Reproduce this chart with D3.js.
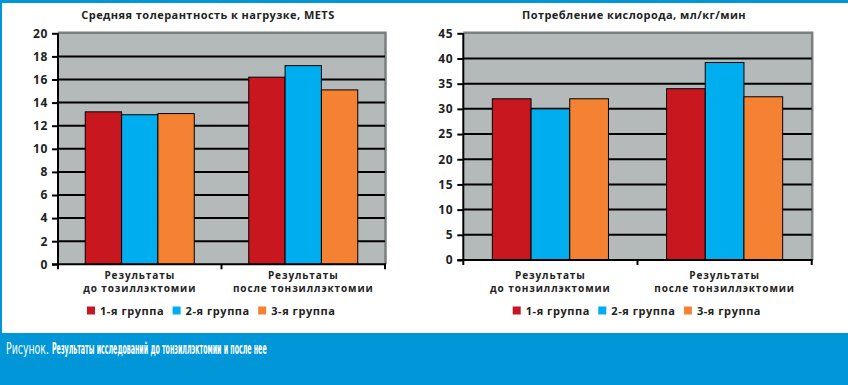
<!DOCTYPE html>
<html>
<head>
<meta charset="utf-8">
<script src="https://cdn.jsdelivr.net/npm/d3@7"></script>
<style>
  html, body { margin: 0; padding: 0; background: #fff; }
  svg { display: block; }
  .lbl { font-family: 'Open Sans', sans-serif; font-weight: 700; fill: #222; }
</style>
</head>
<body>
<div id="chart"></div>
<script>
;(function() {
  // data
  var groups = ['1-я группа', '2-я группа', '3-я группа']
  var metsCategories = [['Результаты', 'до тозиллэктомии'], ['Результаты', 'после тонзиллэктомии']]
  var metsValues = [[13.2, 12.95, 13.05], [16.2, 17.2, 15.1]]
  var metsTicks = [0, 2, 4, 6, 8, 10, 12, 14, 16, 18, 20]
  var oxyCategories = [['Результаты', 'до тонзиллэктомии'], ['Результаты', 'после тонзиллэктомии']]
  var oxyValues = [[32.0, 30.0, 32.0], [34.0, 39.2, 32.4]]
  var oxyTicks = [0, 5, 10, 15, 20, 25, 30, 35, 40, 45]

  var colors = ['#c9171f', '#00adee', '#f58233']
  var W = 848, H = 385

  var svg = d3
    .select('#chart')
    .append('svg')
    .attr('width', W)
    .attr('height', H)

  // frame
  svg.append('rect').attr('width', W).attr('height', H).attr('fill', '#0096d8')
  svg.append('rect').attr('x', 2).attr('y', 3).attr('width', W - 2).attr('height', 330).attr('fill', '#fff')

  function drawChart(opt) {
    var g = svg.append('g')
    var y = d3.scaleLinear().domain([0, opt.max]).range([opt.bottom, opt.top])
    var x0 = d3.scaleBand().domain(d3.range(opt.categories.length)).range([opt.left, opt.right])
    var bw = x0.bandwidth()
    var gap = bw * 0.75 / 4.5
    var x1 = d3.scaleBand().domain(d3.range(groups.length)).range([gap, bw - gap])

    // plot background
    g.append('rect')
      .attr('x', opt.left)
      .attr('y', opt.top)
      .attr('width', opt.right - opt.left)
      .attr('height', opt.bottom - opt.top)
      .attr('fill', '#b4b9b9')

    // top + right border
    g.append('path')
      .attr('d', 'M' + opt.left + ',' + (opt.top - 0.5) + 'H' + (opt.right + 0.5) + 'V' + opt.bottom)
      .attr('fill', 'none')
      .attr('stroke', '#7a7f7f')
      .attr('stroke-width', 2.5)

    // gridlines
    g.selectAll('.grid')
      .data(opt.ticks.filter(d => d > 0 && d < opt.max))
      .enter()
      .append('line')
      .attr('x1', opt.left)
      .attr('x2', opt.right)
      .attr('y1', d => y(d))
      .attr('y2', d => y(d))
      .attr('stroke', '#000')
      .attr('stroke-width', 2)

    // bars
    opt.values.forEach(function(vals, ci) {
      g.selectAll('.bar' + ci)
        .data(vals)
        .enter()
        .append('rect')
        .attr('x', (d, i) => x0(ci) + x1(i))
        .attr('y', d => y(d))
        .attr('width', x1.bandwidth())
        .attr('height', d => opt.bottom - y(d))
        .attr('fill', (d, i) => colors[i])
        .attr('stroke', '#000')
        .attr('stroke-width', 1)
    })

    // left axis
    var yAxis = d3.axisLeft(y).tickValues(opt.ticks).tickSize(6).tickPadding(4)
    var ya = g.append('g')
      .attr('transform', 'translate(' + opt.left + ',0)')
      .call(yAxis)
    ya.select('.domain').attr('stroke', '#000').attr('stroke-width', 2).attr('d', 'M0,' + opt.top + 'V' + opt.bottom)
    ya.selectAll('.tick line').attr('stroke', '#000').attr('stroke-width', 2)
    ya.selectAll('.tick text')
      .attr('class', 'lbl')
      .style('font-size', '12px')
      .style('letter-spacing', '0.6px')
      .attr('fill', '#222')

    // bottom axis
    g.append('line')
      .attr('x1', opt.left - 6)
      .attr('x2', opt.right + 1)
      .attr('y1', opt.bottom)
      .attr('y2', opt.bottom)
      .attr('stroke', '#000')
      .attr('stroke-width', 2)
    var edges = d3.range(opt.categories.length + 1).map(i => i < opt.categories.length ? x0(i) : opt.right)
    g.selectAll('.xtick')
      .data(edges)
      .enter()
      .append('line')
      .attr('x1', d => d)
      .attr('x2', d => d)
      .attr('y1', opt.bottom)
      .attr('y2', opt.bottom + 5)
      .attr('stroke', '#000')
      .attr('stroke-width', 2)

    // category labels, one text per line
    opt.categories.forEach(function(lines, ci) {
      lines.forEach(function(line, li) {
        g.append('text')
          .attr('class', 'lbl')
          .attr('text-anchor', 'middle')
          .attr('x', x0(ci) + bw / 2)
          .attr('y', opt.bottom + (li === 0 ? 14.5 : 28) + opt.labelShift)
          .style('font-size', '10px')
          .style('letter-spacing', '0.9px')
          .text(line)
      })
    })

    // title
    g.append('text')
      .attr('class', 'lbl')
      .attr('x', opt.titleX)
      .attr('y', 18.5)
      .attr('text-anchor', 'middle')
      .style('font-size', '11px')
      .style('letter-spacing', '0.45px')
      .text(opt.title)

    // legend
    var leg = g.selectAll('.leg')
      .data(groups)
      .enter()
      .append('g')
      .attr('transform', (d, i) => 'translate(' + (opt.legendX + i * 85.6) + ',310.5)')
    leg.append('rect')
      .attr('x', 0)
      .attr('y', -4)
      .attr('width', 8)
      .attr('height', 8)
      .attr('fill', (d, i) => colors[i])
    leg.append('text')
      .attr('class', 'lbl')
      .attr('x', 13)
      .attr('y', 4)
      .style('font-size', '11px')
      .style('letter-spacing', '0.55px')
      .text(d => d)
  }

  drawChart({
    title: 'Средняя толерантность к нагрузке, METS',
    titleX: 208,
    categories: metsCategories,
    values: metsValues,
    ticks: metsTicks,
    max: 20,
    left: 58,
    right: 385,
    top: 33.3,
    bottom: 264.3,
    labelShift: 0,
    legendX: 87
  })

  drawChart({
    title: 'Потребление кислорода, мл/кг/мин',
    titleX: 634,
    categories: oxyCategories,
    values: oxyValues,
    ticks: oxyTicks,
    max: 45,
    left: 463.3,
    right: 811.7,
    top: 33.3,
    bottom: 260,
    labelShift: 4,
    legendX: 512.7
  })

  // caption: squeeze each piece horizontally to the reference width
  function caption(str, x, width, bold) {
    var t = svg.append('text')
      .attr('fill', '#fff')
      .style('font-family', "'Liberation Sans Narrow', 'DejaVu Sans Condensed', sans-serif")
      .style('font-size', '15px')
      .style('font-weight', bold ? 700 : 400)
      .text(str)
    var w = t.node().getComputedTextLength()
    t.attr('transform', 'translate(' + x + ',353.5) scale(' + (width / w) + ',1)')
  }
  caption('Рисунок.', 6, 43, false)
  caption('Результаты исследований до тонзиллэктомии и после нее', 52, 215, true)
})()
</script>
</body>
</html>
